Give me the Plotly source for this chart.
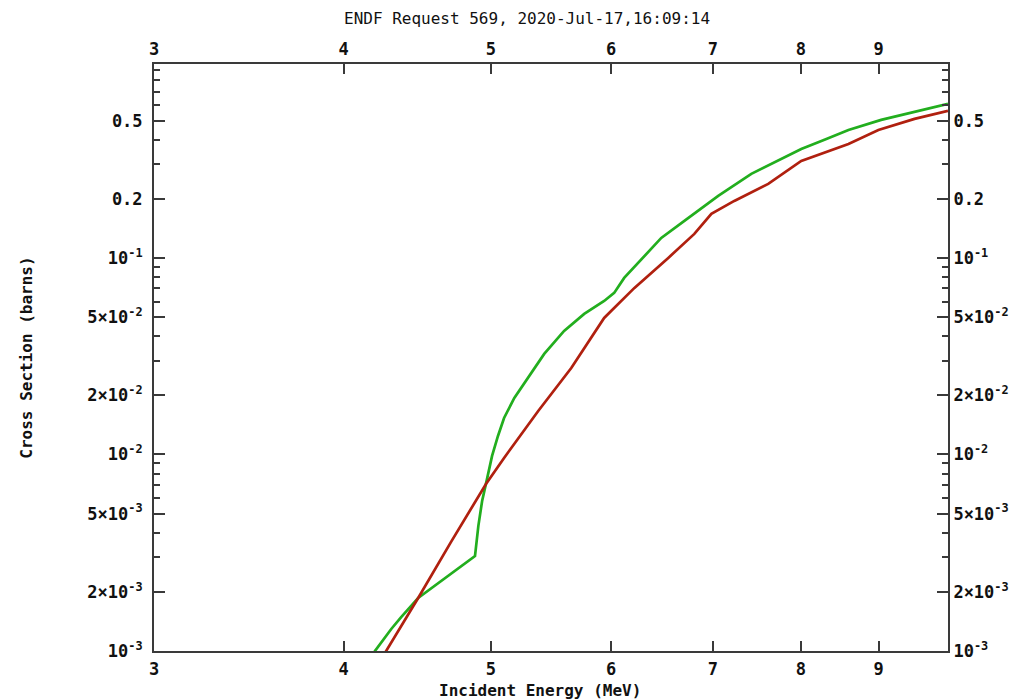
import math
import plotly.graph_objects as go

# Red curve (energy MeV, cross section barns)
red_e = [4.20, 4.266, 4.478, 4.707, 4.963, 5.101, 5.372, 5.648, 5.937, 6.0, 6.216,
         6.543, 6.807, 6.985, 7.232, 7.614, 8.005, 8.599, 8.998, 9.505, 10.0]
red_xs = [0.00082, 0.00100, 0.00186, 0.00359, 0.00708, 0.0096, 0.01665, 0.02755, 0.0495,
          0.0537, 0.0704, 0.100, 0.1325, 0.1675, 0.195, 0.238, 0.3115, 0.380, 0.448,
          0.510, 0.560]

# Green curve
green_e = [4.15, 4.194, 4.299, 4.364, 4.478, 4.637, 4.881, 4.906, 4.934, 4.971,
           5.009, 5.054, 5.101, 5.181, 5.292, 5.421, 5.587, 5.760, 5.937, 6.028, 6.120,
           6.252, 6.474, 6.705, 7.058, 7.421, 8.005, 8.300, 8.599, 9.036, 9.505, 10.0]
green_xs = [0.00086, 0.00100, 0.001294, 0.001489, 0.00186, 0.00227, 0.00304,
            0.00433, 0.00580, 0.00751, 0.00983, 0.01242, 0.01534, 0.01939, 0.02451,
            0.03247, 0.0425, 0.0519, 0.0604, 0.0664, 0.0791, 0.0943, 0.1264, 0.1543,
            0.2068, 0.2677, 0.3586, 0.400, 0.448, 0.504, 0.553, 0.608]

x_ticks = [3, 4, 5, 6, 7, 8, 9]
x_labels = ["3", "4", "5", "6", "7", "8", "9"]
y_ticks = [1e-3, 2e-3, 5e-3, 1e-2, 2e-2, 5e-2, 0.1, 0.2, 0.5]
y_labels = ["10<sup>-3</sup>", "2×10<sup>-3</sup>", "5×10<sup>-3</sup>",
            "10<sup>-2</sup>", "2×10<sup>-2</sup>", "5×10<sup>-2</sup>",
            "10<sup>-1</sup>", "0.2", "0.5"]
y_minor = [m * 10.0 ** k for k in (-3, -2, -1) for m in range(1, 10)]

x_range = [3, 10]
y_range = [1e-3, 0.97]

FONT = "DejaVu Sans Mono"
AX = "#3a3a3a"
TXT = "#111111"

fig = go.Figure()
fig.add_trace(go.Scatter(x=green_e, y=green_xs, mode="lines",
                         line=dict(color="#22ae1e", width=2.7), showlegend=False))
fig.add_trace(go.Scatter(x=red_e, y=red_xs, mode="lines",
                         line=dict(color="#b0200f", width=2.7), showlegend=False))
# helper trace for secondary axes
fig.add_trace(go.Scatter(x=[x_range[0]], y=[y_range[0]], xaxis="x2", yaxis="y2",
                         mode="markers", marker=dict(opacity=0), showlegend=False,
                         hoverinfo="skip"))

xr = [math.log10(x_range[0]), math.log10(x_range[1])]
yr = [math.log10(y_range[0]), math.log10(y_range[1])]

tick_font = dict(family=FONT, size=17, color=TXT, weight="bold")

common_x = dict(type="log", range=xr, tickmode="array", tickvals=x_ticks,
                ticktext=x_labels, ticks="inside", ticklen=10, tickwidth=1.5,
                tickcolor=AX, showline=True, linecolor=AX, linewidth=2,
                showgrid=False, zeroline=False, tickfont=tick_font)
common_y = dict(type="log", range=yr, tickmode="array", tickvals=y_ticks,
                ticktext=y_labels, ticks="inside", ticklen=11, tickwidth=1.5,
                tickcolor=AX, showline=True, linecolor=AX, linewidth=2,
                showgrid=False, zeroline=False, tickfont=tick_font,
                minor=dict(tickmode="array", tickvals=y_minor, ticks="inside",
                           ticklen=6, tickwidth=1.5, tickcolor=AX, showgrid=False))

fig.update_layout(
    width=1034, height=700,
    margin=dict(l=146, r=94, t=56, b=57),
    paper_bgcolor="white", plot_bgcolor="white",
    xaxis=dict(**common_x, side="bottom", ticklabelstandoff=2),
    xaxis2=dict(**common_x, side="top", overlaying="x", matches="x", anchor="y"),
    yaxis=dict(**common_y, side="left", ticklabelstandoff=6),
    yaxis2=dict(**common_y, side="right", overlaying="y", matches="y", anchor="x"),
    annotations=[
        dict(text="ENDF Request 569, 2020-Jul-17,16:09:14", xref="paper", yref="paper",
             x=0.470, y=1.078, xanchor="center", yanchor="middle", showarrow=False,
             font=dict(family=FONT, size=16, color=TXT)),
        dict(text="Incident Energy (MeV)", xref="paper", yref="paper",
             x=0.486, y=-0.068, xanchor="center", yanchor="middle", showarrow=False,
             font=dict(family=FONT, size=16, color=TXT, weight="bold")),
        dict(text="Cross Section (barns)", xref="paper", yref="paper",
             x=-0.161, y=0.50, xanchor="center", yanchor="middle", showarrow=False,
             textangle=-90,
             font=dict(family=FONT, size=16, color=TXT, weight="bold")),
    ],
)

fig.write_html("out.html")
